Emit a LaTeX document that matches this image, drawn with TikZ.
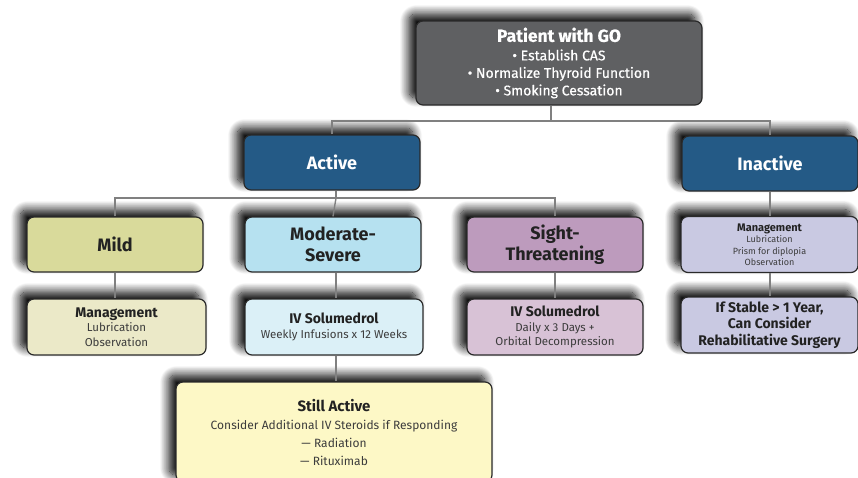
\documentclass[tikz,border=0pt]{standalone}
\usepackage{fontspec}
\setmainfont{Fira Sans}
\usetikzlibrary{shadows.blur}
\definecolor{goGrey}{HTML}{5F6062}
\definecolor{actBlue}{HTML}{245A86}
\definecolor{mildFill}{HTML}{D9DA9B}
\definecolor{mildSub}{HTML}{EBE9C8}
\definecolor{modFill}{HTML}{B6E1F0}
\definecolor{modSub}{HTML}{DBF0F7}
\definecolor{sightFill}{HTML}{BD9BBD}
\definecolor{sightSub}{HTML}{D8C2D6}
\definecolor{inFill}{HTML}{C9C9E2}
\definecolor{stillFill}{HTML}{FDF8C6}
\definecolor{boxLine}{HTML}{2A2A2A}
\definecolor{linkGrey}{HTML}{808080}
\definecolor{txtDark}{HTML}{222222}
\definecolor{txtSoft}{HTML}{3C3C3C}
\tikzstyle{box}=[rectangle,rounded corners=7pt,draw=boxLine,line width=1.2pt,align=center,inner sep=0pt,
  blur shadow={shadow xshift=-7pt,shadow yshift=7pt,shadow blur radius=9pt,shadow blur steps=14,shadow opacity=100}]
\tikzstyle{cell}=[box,minimum width=176pt,minimum height=55pt]
\tikzstyle{sub}=[box,minimum width=177pt,minimum height=56pt]
\tikzstyle{link}=[draw=linkGrey,line width=1.4pt]
\newcommand{\hdBig}{\fontsize{18}{21}\selectfont\bfseries}
\newcommand{\hdMid}{\fontsize{14}{16.5}\selectfont\bfseries}
\newcommand{\hdSmall}{\fontsize{11}{13}\selectfont\bfseries}
\newcommand{\txtTop}{\fontsize{14}{17.5}\selectfont\addfontfeature{FakeBold=0.6}}
\newcommand{\txtMid}{\fontsize{12}{18}\selectfont}
\newcommand{\txtSmall}{\fontsize{11.5}{14.5}\selectfont}
\newcommand{\txtTiny}{\fontsize{9}{11.5}\selectfont}

\begin{document}
\begin{tikzpicture}[x=1pt,y=-1pt]
      \useasboundingbox (0,0) rectangle (858,477);
      \node[box,fill=goGrey,text=white,minimum width=286pt,minimum height=84pt,font=\txtTop] at (559,63) (go)
        {{\fontsize{17.5}{20}\selectfont\bfseries Patient with GO}\\[1pt] • Establish CAS\\ • Normalize Thyroid Function\\ • Smoking Cessation};
      \node[cell,fill=actBlue,text=white,font=\hdBig] at (332,162.5) (active) {Active};
      \node[cell,fill=actBlue,text=white,font=\hdBig] at (770,163.5) (inactive) {Inactive};
      \node[cell,fill=mildFill,text=txtDark,font=\hdBig] at (115,244.5) (mild) {Mild};
      \node[cell,fill=modFill,text=txtDark,font=\hdBig] at (333,244.5) (moderate) {Moderate-\\Severe};
      \node[cell,fill=sightFill,text=txtDark,font=\hdBig] at (555,244.5) (sight) {Sight-\\Threatening};
      \node[sub,fill=inFill,text=txtSoft,font=\txtTiny] at (769.5,244.5) (inmgmt)
        {{\hdSmall\color{txtDark}Management}\\ Lubrication\\ Prism for diplopia\\ Observation};
      \node[sub,fill=mildSub,text=txtSoft,font=\txtSmall,minimum width=179pt] at (116.5,327) (mildmgmt)
        {{\hdMid\color{txtDark}Management}\\ Lubrication\\ Observation};
      \node[sub,fill=modSub,text=txtSoft,font=\txtSmall,minimum width=178pt] at (334,327) (ivsolu)
        {{\hdMid\color{txtDark}IV Solumedrol}\\ Weekly Infusions x 12 Weeks};
      \node[sub,fill=sightSub,text=txtSoft,font=\txtSmall,minimum width=176pt] at (555,327) (sightiv)
        {{\hdMid\color{txtDark}IV Solumedrol}\\ Daily x 3 Days +\\ Orbital Decompression};
      \node[sub,fill=inFill,text=txtDark,font=\hdMid] at (769.5,325) (stable)
        {If Stable > 1 Year,\\ Can Consider\\ Rehabilitative Surgery};
      \node[box,fill=stillFill,text=txtSoft,font=\txtMid,minimum width=316pt,minimum height=100pt] at (334,432) (still)
        {{\fontsize{15}{17}\selectfont\bfseries\color{txtDark}Still Active}\\ Consider Additional IV Steroids if Responding\\ — Radiation\\ — Rituximab};
      \coordinate (j1) at (551,121);
      \coordinate (j2) at (336,198);
      \draw[link] (j1 |- go.south) -- (j1);
      \draw[link] (active.north) |- (j1) -| (inactive.north);
      \draw[link] (active.south -| j2) -- (j2);
      \draw[link] (mild.north) |- (j2) -| (sight.north);
      \draw[link] (j2) -- (moderate.north);
      \draw[link] (mild.south) -- (mildmgmt.north -| mild.south);
      \draw[link] (moderate.south -| j2) -- (ivsolu.north -| j2);
      \draw[link] (sight.south) -- (sightiv.north -| sight.south);
      \draw[link] (inactive.south) -- (inmgmt.north -| inactive.south);
      \draw[link] (inmgmt.south -| inactive.south) -- (stable.north -| inactive.south);
      \draw[link] (ivsolu.south -| j2) -- (still.north -| j2);
    \end{tikzpicture}
\end{document}
